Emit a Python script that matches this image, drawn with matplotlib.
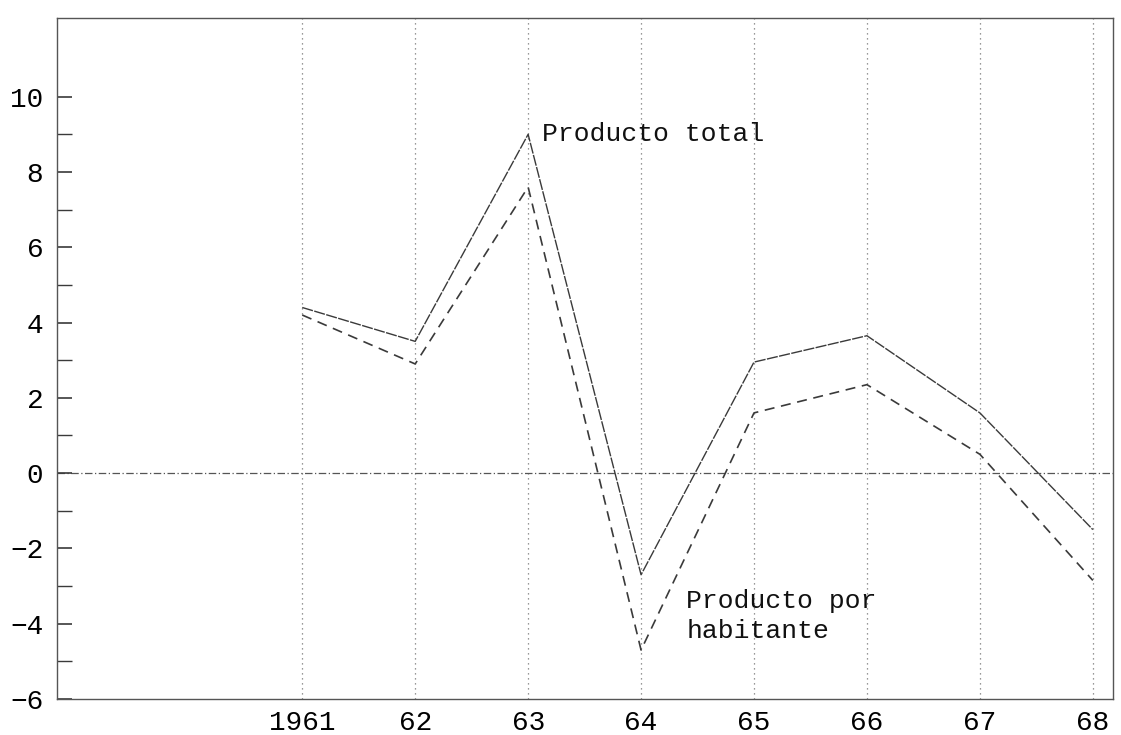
import matplotlib.pyplot as plt
import numpy as np

years = [1961, 1962, 1963, 1964, 1965, 1966, 1967, 1968]
year_labels = ['1961', '62', '63', '64', '65', '66', '67', '68']
producto_total = [4.4, 3.5, 9.0, -2.7, 2.95, 3.65, 1.6, -1.5]
producto_hab = [4.2, 2.9, 7.6, -4.7, 1.6, 2.35, 0.5, -2.85]

plt.rcParams['font.family'] = ['Liberation Mono', 'DejaVu Sans Mono']

fig = plt.figure(figsize=(11.21, 7.35), dpi=100)
ax = fig.add_axes([0.051, 0.049, 0.942, 0.927])

ink = '#3a3a3a'
grid_ls = (0, (1, 3))

ax.plot(years, producto_total, color=ink, lw=1.0, ls=(0, (8, 1)))
ax.plot(years, producto_hab, color=ink, lw=1.2, ls=(0, (6, 4)))

for yr in years:
    ax.axvline(yr, color='#777777', lw=0.9, ls=grid_ls, zorder=0)
ax.axhline(0, color='#555555', lw=0.9, ls=(0, (6, 2, 1, 2)), zorder=0)

ax.set_xlim(1958.83, 1968.18)
ax.set_ylim(-6, 12.1)

ax.set_xticks(years)
ax.set_xticklabels(year_labels)
ax.set_yticks(np.arange(-6, 11, 2))
ax.set_yticks(np.arange(-5, 11, 1), minor=True)
ax.tick_params(axis='x', length=0, pad=8, labelsize=20)
ax.tick_params(axis='y', which='major', direction='in', length=11, width=1.2,
               color=ink, labelsize=20, pad=10)
ax.tick_params(axis='y', which='minor', direction='in', length=11, width=1.0,
               color=ink)

for side in ['left', 'right', 'top', 'bottom']:
    ax.spines[side].set_color('#555555')
    ax.spines[side].set_linewidth(1.0)
    ax.spines[side].set_linestyle((0, (5, 1, 1, 1)))

ax.text(1963.12, 9.0, 'Producto total', fontsize=19, color='#111111',
        ha='left', va='center')
ax.text(1964.4, -3.8, 'Producto por\nhabitante', fontsize=19,
        color='#111111', ha='left', va='center', linespacing=1.3)

fig.savefig('out.png', dpi=100)
